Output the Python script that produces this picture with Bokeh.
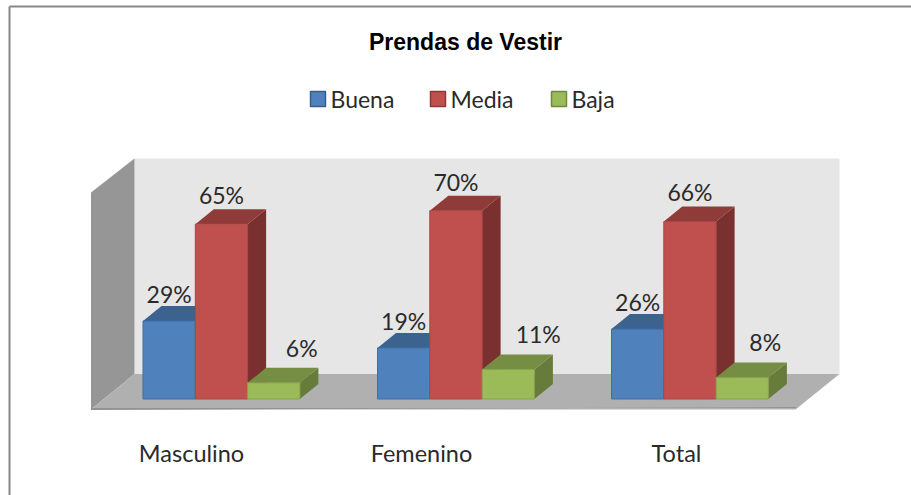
from bokeh.plotting import figure
from bokeh.embed import file_html
from bokeh.resources import INLINE
from bokeh.models import Range1d
from bokeh.core.properties import value

categories = ["Masculino", "Femenino", "Total"]
series = ["Buena", "Media", "Baja"]
buena = [29, 19, 26]
media = [65, 70, 66]
baja = [6, 11, 8]
title = "Prendas de Vestir"

W, H = 911, 495
PX = 2.69  # pixels per percentage point
Y0 = 398.5  # pixel row of the 0 % baseline


def py(row):
    """Pixel row -> value on the percentage scale."""
    return (Y0 - row) / PX


p = figure(width=W, height=H, output_backend="svg", toolbar_location=None,
           x_range=Range1d(0, W), y_range=Range1d(py(H), py(0)),
           min_border=0, margin=0, outline_line_color=None,
           background_fill_color="white", border_fill_color="white")
p.axis.visible = False
p.grid.visible = False

# chart border (the right and bottom edges are cut off in the picture)
p.line([9, 9], [py(H), py(6)], line_color="#878787", line_width=2)
p.line([9, W], [py(6), py(6)], line_color="#878787", line_width=2)

# walls and floor
p.patch([134, 839, 839, 134], [py(158), py(158), py(373.5), py(373.5)], fill_color="#e6e6e6", line_color=None)
p.patch([90.5, 134, 134, 90.5], [py(192), py(158), py(373.5), py(409)], fill_color="#969696", line_color=None)
p.patch([90.5, 134, 839, 795], [py(409), py(373.5), py(373.5), py(409)], fill_color="#b0b0b0", line_color=None)
p.patch([90.5, 795, 796.5, 90.5], [py(407.5), py(407.5), py(406.5), py(409.5)], fill_color="#929292", line_color=None)

# bars
BAR_W = 52.3
STARTS = [142.5, 377, 611]
DX, DY = 18.5, 15 / PX
styles = [
    ("#4f81bd", "#3c6290", "#335478", "#3f6ea6"),
    ("#c0504d", "#8f3b39", "#7a302e", "#a84644"),
    ("#9bbb59", "#758e43", "#677c3b", "#86a34a"),
]
# label offsets from the front-face centre (px) and gap above the back edge of the top (px)
LABEL_DX = [[0, 0, 28], [0, 0, 30], [0, 0, 23]]
LABEL_GAP = [12, 14, 20]
CAT_X = [191, 421, 676]
for g, name in enumerate(categories):
    for s, vals in enumerate((buena, media, baja)):
        v = vals[g]
        x0 = STARTS[g] + s * BAR_W
        x1 = x0 + BAR_W
        front, top, side, edge = styles[s]
        p.patch([x1, x1 + DX, x1 + DX, x1], [0, DY, v + DY, v], fill_color=side, line_color=None)
        p.patch([x0, x0 + DX, x1 + DX, x1], [v, v + DY, v + DY, v], fill_color=top, line_color=None)
        p.patch([x0, x1, x1, x0], [0, 0, v, v], fill_color=front, line_color=edge, line_width=1)
        p.text([x0 + BAR_W / 2 + LABEL_DX[g][s]], [v + DY + LABEL_GAP[s] / PX], text=[f"{v}%"], text_align="center",
               text_baseline="middle", text_font=value("Lato"), text_font_size="23px", text_color="#2a2a2a")
    p.text([CAT_X[g]], [py(452)], text=[name], text_align="center", text_baseline="middle",
           text_font=value("Lato"), text_font_size="23.5px", text_color="#2a2a2a")

# title and legend
p.text([465], [py(41)], text=[title], text_align="center", text_baseline="middle",
       text_font=value("Liberation Sans"), text_font_style="bold", text_font_size="23px", text_color="#000000")
LEG_X = [310, 430, 551]
LEG_COL = ["#4f81bd", "#c0504d", "#9bbb59"]
LEG_EDGE = ["#385d8a", "#8c3836", "#71893f"]
for x, nm, c, e in zip(LEG_X, series, LEG_COL, LEG_EDGE):
    p.patch([x, x + 15, x + 15, x], [py(106), py(106), py(91), py(91)], fill_color=c, line_color=e, line_width=1.5)
    p.text([x + 20], [py(98)], text=[nm], text_align="left", text_baseline="middle",
           text_font=value("Lato"), text_font_size="23px", text_color="#2a2a2a")

open("out.html", "w").write(file_html(p, INLINE))
